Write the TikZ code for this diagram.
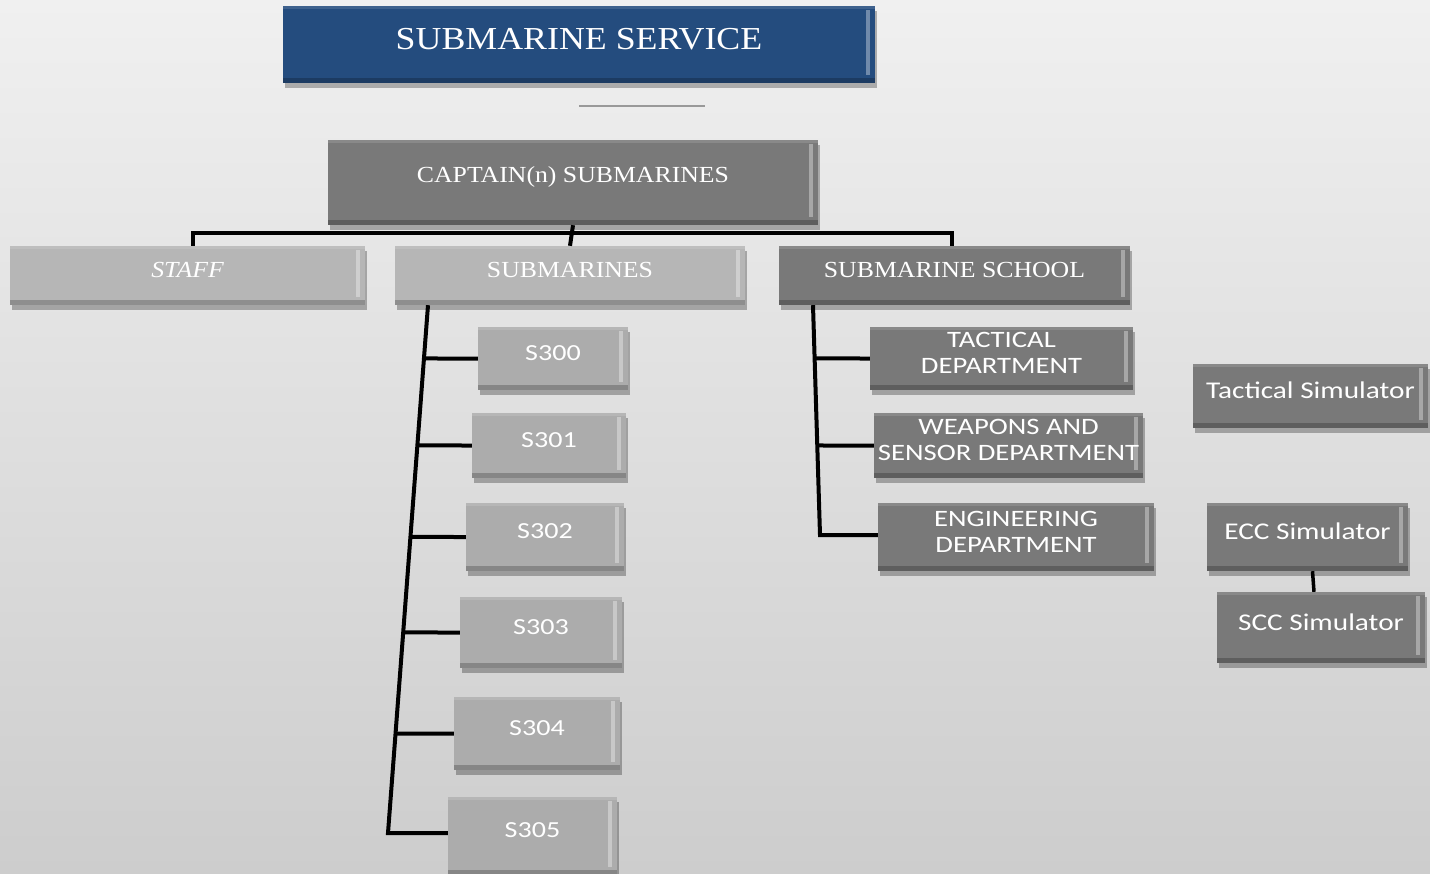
\documentclass[tikz,border=0pt]{standalone}
\usepackage{fontspec}
\setmainfont{Liberation Serif}
\newfontfamily\serifw[FakeStretch=1.12]{Liberation Serif}
\newfontfamily\sansw[FakeStretch=1.22]{Carlito}
\usetikzlibrary{shadows,calc}
\definecolor{bgtop}{RGB}{240,240,240}
\definecolor{bgbot}{RGB}{205,205,205}
\definecolor{navy}{RGB}{36,76,126}
\definecolor{darkg}{RGB}{121,121,121}
\definecolor{lightg}{RGB}{182,182,182}
\definecolor{sg}{RGB}{172,172,172}
\tikzset{
  bevel/.style={
    path picture={
      \fill[black,opacity=.22] ([yshift=5pt]path picture bounding box.south west) rectangle (path picture bounding box.south east);
      \fill[white,opacity=.35] ([xshift=-9pt,yshift=-4pt]path picture bounding box.north east) rectangle ([xshift=-5pt,yshift=8pt]path picture bounding box.south east);
      \fill[white,opacity=.12] (path picture bounding box.north west) rectangle ([yshift=-3pt]path picture bounding box.north east);
    }},
  boxbase/.style={bevel, inner sep=0pt,
    drop shadow={shadow xshift=2pt, shadow yshift=-5pt, opacity=.28, fill=black}},
  txt/.style={inner sep=0pt, align=center, text=white},
  titleT/.style={txt, font=\serifw\fontsize{32}{34}\selectfont},
  serifT/.style={txt, font=\serifw\fontsize{23}{25}\selectfont},
  sansT/.style={txt, font=\sansw\fontsize{23}{25}\selectfont},
  deptT/.style={txt, font=\sansw\fontsize{23.5}{26}\selectfont},
  simT/.style={txt, font=\sansw\fontsize{24}{26}\selectfont},
  conn/.style={draw=black, line width=4pt},
}
% name, x1, y1, x2, y2, fill, text style, text
\newcommand\bx[8]{%
  \node[boxbase, fill=#6, minimum width={(#4-#2)*1pt}, minimum height={(#5-#3)*1pt}] (#1) at ({(#2+#4)/2},{(#3+#5)/2}) {};
  \node[#7] (#1t) at ([yshift=5.5pt]#1.center) {#8};}
\begin{document}
\begin{tikzpicture}[x=1pt,y=-1pt]
\useasboundingbox (0,0) rectangle (1430,873);
\fill[top color=bgtop, bottom color=bgbot] (0,0) rectangle (1430,873);

\bx{title}{283}{6}{875}{83}{navy}{titleT}{SUBMARINE SERVICE}
\draw[gray!80, line width=1.5pt] (579,106) -- (705,106);

\bx{cap}{328}{140}{818}{225}{darkg}{serifT}{CAPTAIN(n) SUBMARINES}
\bx{staff}{10}{246}{365}{305}{lightg}{serifT}{\itshape STAFF}
\bx{subs}{395}{246}{745}{305}{lightg}{serifT}{SUBMARINES}
\bx{school}{779}{246}{1130}{305}{darkg}{serifT}{SUBMARINE SCHOOL}

\bx{s300}{478}{327}{628}{390}{sg}{sansT}{S300}
\bx{s301}{472}{413}{626}{478}{sg}{sansT}{S301}
\bx{s302}{466}{503}{624}{571}{sg}{sansT}{S302}
\bx{s303}{460}{597}{622}{668}{sg}{sansT}{S303}
\bx{s304}{454}{697}{620}{770}{sg}{sansT}{S304}
\bx{s305}{448}{797}{617}{875}{sg}{sansT}{S305}

\bx{tact}{870}{327}{1133}{390}{darkg}{deptT}{TACTICAL\\DEPARTMENT}
\bx{weap}{874}{413}{1143}{478}{darkg}{deptT}{WEAPONS AND\\SENSOR DEPARTMENT}
\bx{eng}{878}{503}{1154}{571}{darkg}{deptT}{ENGINEERING\\DEPARTMENT}

\bx{tsim}{1193}{364}{1428}{428}{darkg}{simT}{Tactical Simulator}
\bx{ecc}{1207}{503}{1408}{571}{darkg}{simT}{ECC Simulator}
\bx{scc}{1217}{592}{1425}{663}{darkg}{simT}{SCC Simulator}

% top bus
\coordinate (bus) at (573,233);
\draw[conn] ([xshift=5pt]staff.north) -- ([xshift=5pt]staff.north |- bus) -- ([xshift=-3pt]school.north |- bus) -- ([xshift=-3pt]school.north);
\draw[conn] (cap.south) -- (subs.north);

% submarines bus
\coordinate (sbt) at (428,305);
\coordinate (sbb) at (388,833);
\draw[conn] (subs.south -| sbt) -- (sbb) -- (sbb -| s305.west);
\foreach \n in {s300,s301,s302,s303,s304}
  \draw[conn] (intersection of sbt--sbb and {\n.west}--{\n.east}) -- (\n.west);

% school bus
\coordinate (sct) at (813,305);
\coordinate (scb) at (820,535);
\draw[conn] (school.south -| sct) -- (scb) -- (scb -| eng.west);
\foreach \n in {tact,weap}
  \draw[conn] (intersection of sct--scb and {\n.west}--{\n.east}) -- (\n.west);

% simulators
\draw[draw=black, line width=3.5pt] ([xshift=5pt]ecc.south) -- ([xshift=-7pt]scc.north);
\end{tikzpicture}
\end{document}
